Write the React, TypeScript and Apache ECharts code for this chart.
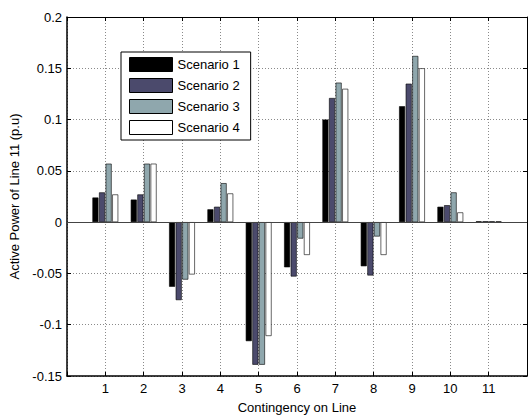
import React, { useEffect, useRef } from "react";
import * as echarts from "echarts";

const categories = ["", "1", "2", "3", "4", "5", "6", "7", "8", "9", "10", "11", ""];
const seriesNames = ["Scenario 1", "Scenario 2", "Scenario 3", "Scenario 4"];
const scenario1 = [0.024, 0.022, -0.063, 0.0125, -0.116, -0.044, 0.100, -0.043, 0.113, 0.015, 0.0008];
const scenario2 = [0.029, 0.027, -0.076, 0.015, -0.139, -0.053, 0.121, -0.052, 0.135, 0.0165, 0.0008];
const scenario3 = [0.057, 0.057, -0.056, 0.038, -0.139, -0.016, 0.136, -0.014, 0.162, 0.029, 0.0008];
const scenario4 = [0.027, 0.057, -0.051, 0.028, -0.111, -0.032, 0.130, -0.032, 0.150, 0.0095, 0.0008];
const seriesColors = ["#000000", "#4b4a6c", "#8fa7ad", "#ffffff"];
const yTicks = { min: -0.15, max: 0.2, interval: 0.05 };

const FONT = "'Liberation Sans', Arial, sans-serif";

export default function App() {
  const ref = useRef<HTMLDivElement>(null);
  useEffect(() => {
    if (!ref.current) return;
    const chart = echarts.init(ref.current, null, { renderer: "svg" });
    const all = [scenario1, scenario2, scenario3, scenario4];
    const fmt = (v: number) => String(+v.toFixed(2));
    const tickStyle = { show: true, inside: true, length: 4, lineStyle: { color: "#000" } };
    const gridLine = { show: true, lineStyle: { color: "#8a8a8a", type: [1, 2] as any, width: 1 } };
    chart.setOption({
      animation: false,
      backgroundColor: "#fff",
      textStyle: { fontFamily: FONT },
      grid: { left: 67, top: 17, right: 2, bottom: 37 },
      legend: {
        data: seriesNames,
        orient: "vertical",
        left: 121,
        top: 52,
        itemWidth: 43,
        itemHeight: 14,
        itemGap: 6,
        padding: [5, 11, 5, 8],
        backgroundColor: "#fff",
        borderColor: "#000",
        borderWidth: 1,
        icon: "rect",
        textStyle: { fontFamily: FONT, fontSize: 13, color: "#000" },
        itemStyle: { borderColor: "#000", borderWidth: 1 },
      },
      xAxis: [
        {
          type: "category",
          data: categories,
          boundaryGap: false,
          position: "bottom",
          name: "Contingency on Line",
          nameLocation: "middle",
          nameGap: 25,
          nameTextStyle: { fontFamily: FONT, fontSize: 13, color: "#000" },
          axisLine: { show: true, onZero: false, lineStyle: { color: "#000", width: 1.5 } },
          axisTick: { ...tickStyle, interval: 0, alignWithLabel: true },
          axisLabel: { interval: 0, margin: 6, fontFamily: FONT, fontSize: 13, color: "#000" },
          splitLine: { ...gridLine, interval: 0 },
        },
        {
          type: "category",
          data: categories,
          boundaryGap: false,
          position: "top",
          axisLine: { show: true, onZero: false, lineStyle: { color: "#000", width: 1 } },
          axisTick: { ...tickStyle, interval: 0 },
          axisLabel: { show: false },
          splitLine: { show: false },
        },
      ],
      yAxis: [
        {
          type: "value",
          ...yTicks,
          position: "left",
          name: "Active Power of Line 11 (p.u)",
          nameLocation: "middle",
          nameGap: 45,
          nameTextStyle: { fontFamily: FONT, fontSize: 13, color: "#000" },
          axisLine: { show: true, onZero: false, lineStyle: { color: "#000", width: 1.5 } },
          axisTick: tickStyle,
          axisLabel: { formatter: fmt, margin: 5, fontFamily: FONT, fontSize: 13, color: "#000" },
          splitLine: gridLine,
        },
        {
          type: "value",
          ...yTicks,
          position: "right",
          axisLine: { show: true, onZero: false, lineStyle: { color: "#000", width: 1 } },
          axisTick: tickStyle,
          axisLabel: { show: false },
          splitLine: { show: false },
        },
      ],
      series: all.map((vals, i) => ({
        name: seriesNames[i],
        type: "bar",
        xAxisIndex: 0,
        yAxisIndex: 0,
        barWidth: 6,
        barGap: "10%",
        data: [null, ...vals, null],
        itemStyle: { color: seriesColors[i], borderColor: "#000", borderWidth: 0.6 },
        ...(i === 0
          ? {
              markLine: {
                silent: true,
                symbol: "none",
                label: { show: false },
                lineStyle: { color: "#444", width: 1, type: "solid" },
                data: [{ yAxis: 0 }],
              },
            }
          : {}),
      })),
    });
    return () => chart.dispose();
  }, []);
  return (
    <div
      ref={ref}
      style={{ position: "fixed", left: 0, top: 0, width: 530, height: 419 }}
    />
  );
}
